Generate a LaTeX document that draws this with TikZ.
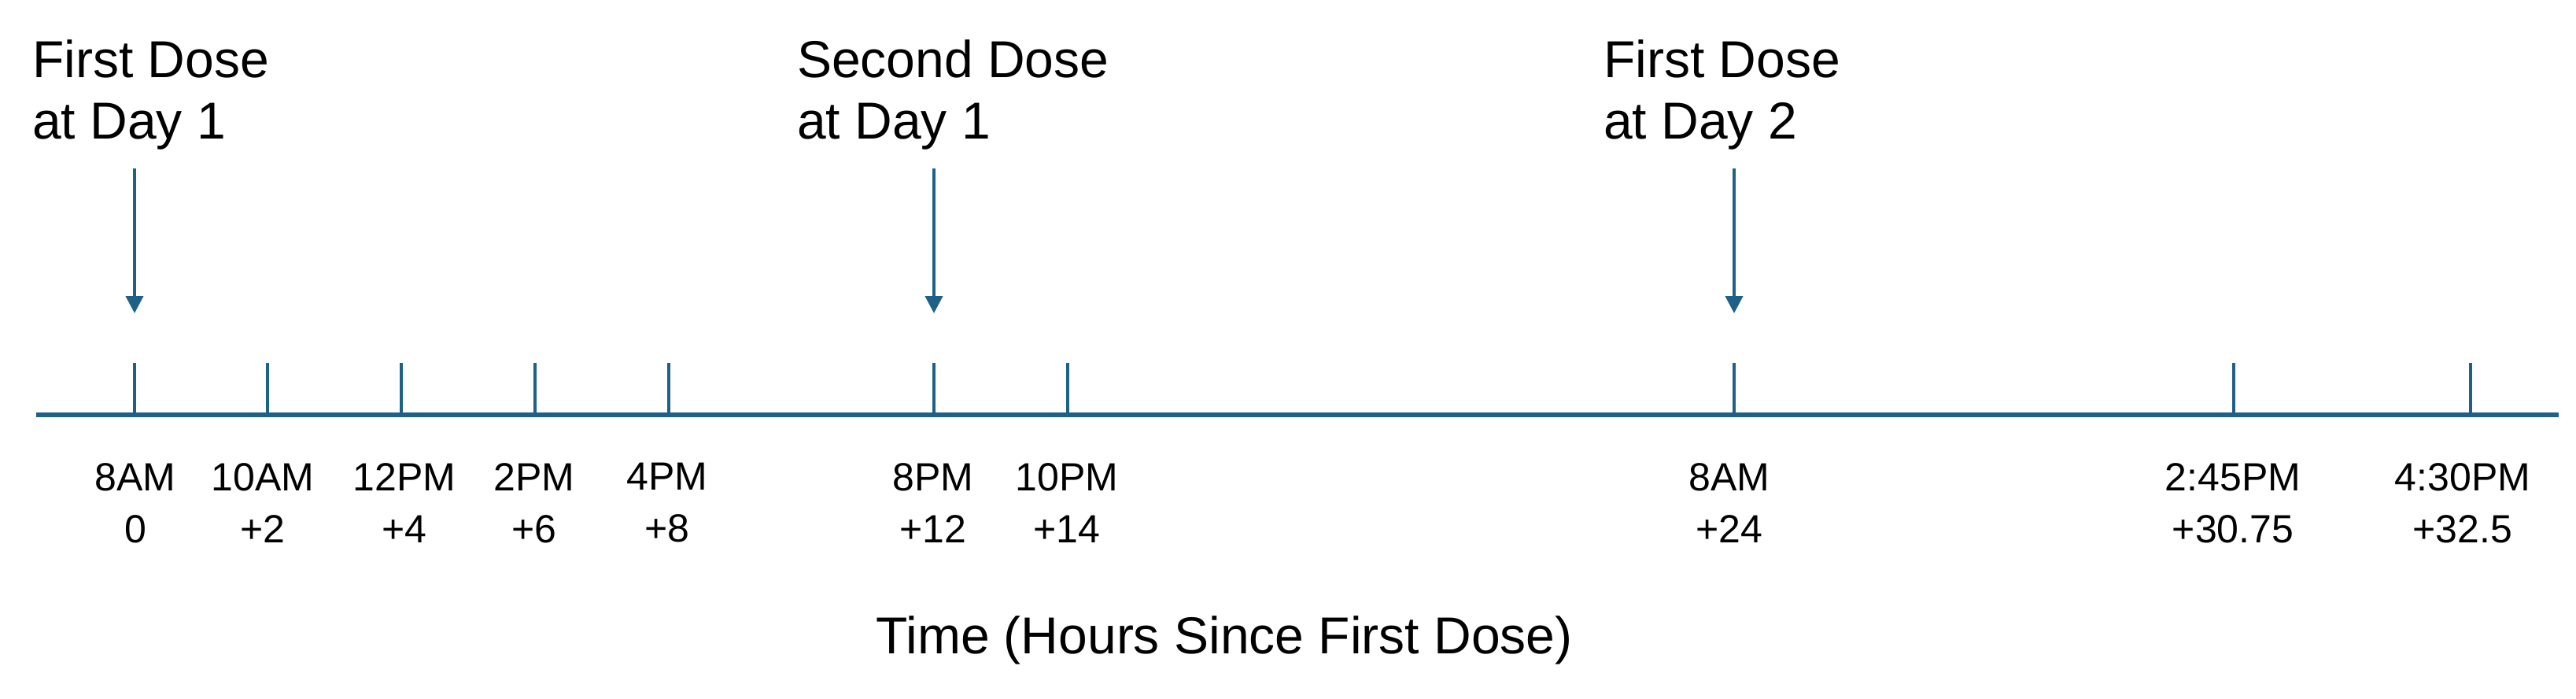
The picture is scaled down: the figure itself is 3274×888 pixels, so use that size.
\documentclass[tikz,border=0pt]{standalone}
\usepackage{fontspec}
\setmainfont{Liberation Sans}
\usetikzlibrary{arrows.meta}
\definecolor{axisblue}{RGB}{30,96,135}
\begin{document}
\begin{tikzpicture}[x=1pt,y=-1pt,
  axisline/.style={draw=axisblue,line width=5.5pt},
  tickline/.style={draw=axisblue,line width=4pt},
  dosearrow/.style={draw=axisblue,line width=4pt,-{Triangle[width=22pt,length=22pt]}},
  headtext/.style={anchor=north west,inner sep=0pt,align=left,font=\fontsize{66}{78}\selectfont},
  ticklabel/.style={anchor=north,inner sep=0pt,align=center,font=\fontsize{50}{66}\selectfont},
  axistitle/.style={anchor=north,inner sep=0pt,font=\fontsize{66}{80}\selectfont}]
\useasboundingbox (0,0) rectangle (3274,888);
% axis
\coordinate (axL) at (46,527);
\coordinate (axR) at (3252,527);
\draw[axisline] (axL) -- (axR);
% ticks
\foreach \n/\x in {1/171,2/340,3/510,4/680,5/850,6/1187,7/1357,8/2204,9/2839,10/3140}{
  \coordinate (b\n) at (\x,527);
  \coordinate (t\n) at (\x,461);
  \draw[tickline] (b\n) -- (t\n);
}
% tick labels
\node[ticklabel] (l1) at (172,588) {8AM\\0};
\node[ticklabel] (l2) at (334,588) {10AM\\+2};
\node[ticklabel] (l3) at (514,588) {12PM\\+4};
\node[ticklabel] (l4) at (679,588) {2PM\\+6};
\node[ticklabel] (l5) at (848,588) {4PM\\+8};
\node[ticklabel] (l6) at (1186,588) {8PM\\+12};
\node[ticklabel] (l7) at (1356,588) {10PM\\+14};
\node[ticklabel] (l8) at (2198,588) {8AM\\+24};
\node[ticklabel] (l9) at (2838,588) {2:45PM\\+30.75};
\node[ticklabel] (l10) at (3130,588) {4:30PM\\+32.5};
% dose headers
\node[headtext] (h1) at (41,50) {First Dose\\at Day 1};
\node[headtext] (h2) at (1013,50) {Second Dose\\at Day 1};
\node[headtext] (h3) at (2038,50) {First Dose\\at Day 2};
% dose arrows
\coordinate (a1s) at (171,214); \coordinate (a1e) at (171,398);
\coordinate (a2s) at (1187,214); \coordinate (a2e) at (1187,398);
\coordinate (a3s) at (2204,214); \coordinate (a3e) at (2204,398);
\draw[dosearrow] (a1s) -- (a1e);
\draw[dosearrow] (a2s) -- (a2e);
\draw[dosearrow] (a3s) -- (a3e);
% axis title
\node[axistitle] (title) at (1556,782) {Time (Hours Since First Dose)};
\end{tikzpicture}
\end{document}
